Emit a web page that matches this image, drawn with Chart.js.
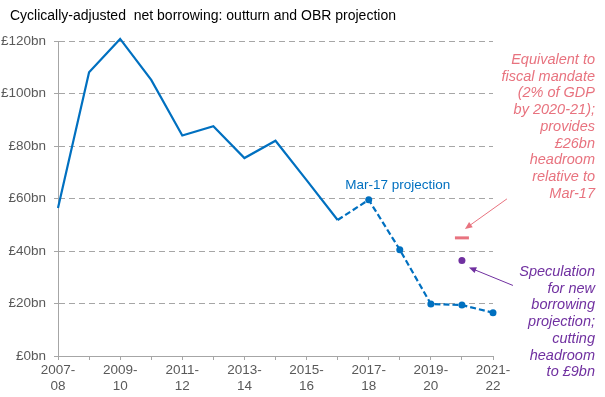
<!DOCTYPE html>
<html>
<head>
<meta charset="utf-8">
<script src="https://cdn.jsdelivr.net/npm/chart.js@4.4.1/dist/chart.umd.min.js"></script>
<style>
  html, body { margin: 0; padding: 0; background: #fff; }
  #wrap { width: 605px; height: 397px; position: relative; }
</style>
</head>
<body>
<div id="wrap"><canvas id="chart" width="605" height="397"></canvas></div>
<script>
// years on the x axis
const years = ['2007-08', '2008-09', '2009-10', '2010-11', '2011-12', '2012-13', '2013-14',
    '2014-15', '2015-16', '2016-17', '2017-18', '2018-19', '2019-20', '2020-21', '2021-22'];

// outturn, £bn
const outturn = [56.4, 108.1, 120.8, 105.2, 84.0, 87.5, 75.4, 82.0, 67.0, 51.8,
    null, null, null, null, null];
// Mar-17 OBR projection, £bn (joins outturn at 2016-17)
const projection = [null, null, null, null, null, null, null, null, null, 51.8,
    59.5, 40.5, 19.8, 19.4, 16.5];
// fiscal mandate equivalent, 2020-21
const mandate = [null, null, null, null, null, null, null, null, null, null,
    null, null, null, 45.0, null];
// speculated new projection, 2020-21
const speculation = [null, null, null, null, null, null, null, null, null, null,
    null, null, null, 36.4, null];

const yTicks = [0, 20, 40, 60, 80, 100, 120];

const redNote = ['Equivalent to', 'fiscal mandate', '(2% of GDP', 'by 2020-21);', 'provides',
    '£26bn', 'headroom', 'relative to', 'Mar-17'];
const purpleNote = ['Speculation', 'for new', 'borrowing', 'projection;', 'cutting',
    'headroom', 'to £9bn'];

const FONT = '"Liberation Sans", Arial, sans-serif';
const BLUE = '#0070C0';
const RED = '#E8737F';
const PURPLE = '#7030A0';
const GREY_TXT = '#595959';

function arrow(ctx, x1, y1, x2, y2, color) {
    const ang = Math.atan2(y2 - y1, x2 - x1);
    const head = 8;
    ctx.save();
    ctx.strokeStyle = color;
    ctx.fillStyle = color;
    ctx.lineWidth = 1;
    ctx.beginPath();
    ctx.moveTo(x1, y1);
    ctx.lineTo(x2 - Math.cos(ang) * head * 0.8, y2 - Math.sin(ang) * head * 0.8);
    ctx.stroke();
    ctx.beginPath();
    ctx.moveTo(x2, y2);
    ctx.lineTo(x2 - head * Math.cos(ang - 0.4), y2 - head * Math.sin(ang - 0.4));
    ctx.lineTo(x2 - head * Math.cos(ang + 0.4), y2 - head * Math.sin(ang + 0.4));
    ctx.closePath();
    ctx.fill();
    ctx.restore();
}

const notes = {
    id: 'notes',
    afterDraw(chart) {
        const ctx = chart.ctx;
        const x = chart.scales.x, y = chart.scales.y;
        ctx.save();
        // title
        ctx.fillStyle = '#000';
        ctx.font = '14px ' + FONT;
        ctx.textAlign = 'left';
        ctx.textBaseline = 'middle';
        ctx.fillText('Cyclically-adjusted  net borrowing: outturn and OBR projection', 10, 16);

        // projection label
        ctx.fillStyle = BLUE;
        ctx.font = '13.5px ' + FONT;
        ctx.textAlign = 'center';
        ctx.fillText('Mar-17 projection', x.getPixelForValue(10) + 29, y.getPixelForValue(59.5) - 15);

        // side notes
        ctx.font = 'italic 14.5px ' + FONT;
        ctx.textAlign = 'right';
        ctx.fillStyle = RED;
        redNote.forEach((t, i) => ctx.fillText(t, 595, 60 + i * 16.7));
        ctx.fillStyle = PURPLE;
        purpleNote.forEach((t, i) => ctx.fillText(t, 595, 272 + i * 16.7));
        ctx.restore();

        const mx = x.getPixelForValue(13), my = y.getPixelForValue(45.0);
        arrow(ctx, mx + 45, my - 39, mx + 3, my - 9, RED);
        const sy = y.getPixelForValue(36.4);
        arrow(ctx, mx + 51, sy + 25, mx + 7, sy + 7, PURPLE);
    }
};

new Chart(document.getElementById('chart'), {
    type: 'line',
    data: {
        labels: years,
        datasets: [
            {
                data: outturn,
                borderColor: BLUE,
                borderWidth: 2.2,
                pointRadius: 0,
                tension: 0,
                clip: false,
            },
            {
                data: projection,
                borderColor: BLUE,
                backgroundColor: BLUE,
                borderWidth: 2.2,
                borderDash: [6, 3],
                pointRadius: ctx => (ctx.dataIndex === 9 ? 0 : 3.5),
                pointBorderWidth: 0,
                tension: 0,
                clip: false,
            },
            {
                data: mandate,
                showLine: false,
                pointStyle: 'line',
                pointRadius: 7,
                pointBorderWidth: 3,
                borderColor: RED,
                backgroundColor: RED,
            },
            {
                data: speculation,
                showLine: false,
                pointRadius: 3.5,
                pointBorderWidth: 0,
                borderColor: PURPLE,
                backgroundColor: PURPLE,
            }
        ]
    },
    options: {
        responsive: false,
        animation: false,
        events: [],
        layout: { padding: { top: 41, right: 112, left: 0, bottom: 0 } },
        plugins: { legend: { display: false }, tooltip: { enabled: false }, title: { display: false } },
        scales: {
            x: {
                grid: { drawOnChartArea: false, drawTicks: true, tickLength: 4, color: '#A6A6A6' },
                border: { color: '#A6A6A6', width: 1 },
                afterFit: s => { s.height = 41; },
                ticks: {
                    autoSkip: false,
                    maxRotation: 0,
                    padding: 2,
                    color: GREY_TXT,
                    font: { family: FONT, size: 13.5 },
                    callback: function(v, i) {
                        if (i % 2) return '';
                        const l = years[i];
                        return [l.slice(0, 5), l.slice(5)];
                    }
                }
            },
            y: {
                min: 0,
                max: 120,
                afterFit: s => { s.width = 58; },
                afterBuildTicks: s => { s.ticks = yTicks.map(v => ({ value: v })); },
                grid: { color: '#A6A6A6', tickLength: 4, lineWidth: 1 },
                border: { color: '#A6A6A6', width: 1, dash: [6, 4] },
                ticks: {
                    padding: 8,
                    color: GREY_TXT,
                    font: { family: FONT, size: 13.5 },
                    callback: v => '£' + v + 'bn'
                }
            }
        }
    },
    plugins: [notes]
});
</script>
</body>
</html>
